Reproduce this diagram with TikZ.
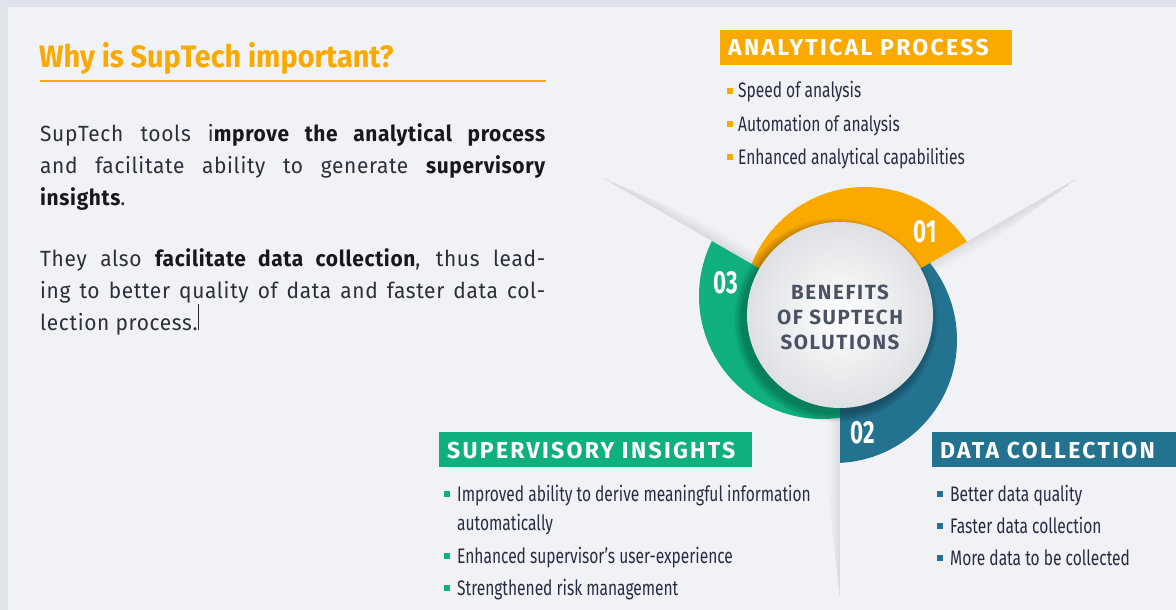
\documentclass[tikz,border=0pt]{standalone}
\usepackage{fontspec}
\setmainfont{Fira Sans}
\newfontfamily\condf[FakeStretch=0.74]{Fira Sans}
\newfontfamily\numf[FakeStretch=0.70]{Fira Sans}
\newfontfamily\titlef[FakeStretch=0.93]{Fira Sans}
\newfontfamily\headf[LetterSpace=10]{Fira Sans}
\newfontfamily\centf[LetterSpace=8]{Fira Sans}
\newfontfamily\bodyf[FakeStretch=0.95,LetterSpace=3]{Fira Sans}
\definecolor{borderc}{RGB}{223,227,234}
\definecolor{bgc}{RGB}{240,242,245}
\definecolor{orng}{RGB}{250,169,0}
\definecolor{blu}{RGB}{35,114,143}
\definecolor{grn}{RGB}{16,176,126}
\definecolor{bodytxt}{RGB}{43,47,58}
\definecolor{boldtxt}{RGB}{22,24,30}
\definecolor{listtxt}{RGB}{40,44,66}
\definecolor{centtxt}{RGB}{75,82,99}
\definecolor{hubedge}{RGB}{222,224,228}
\newcommand\bb[1]{{\bfseries\color{boldtxt}#1}}
\begin{document}
\begin{tikzpicture}[x=1pt,y=-1pt,
  headbox/.style={inner sep=0, anchor=north west, minimum height=35pt, fill=#1},
  headtxt/.style={inner sep=0, anchor=base west, text=white, font=\headf\bfseries\fontsize{23}{23}\selectfont},
  bul/.style={minimum size=6pt, inner sep=0, fill=#1},
  li/.style={anchor=base west, inner sep=0, text=listtxt, font=\condf\fontsize{21}{21}\selectfont},
  num/.style={text=white, inner sep=0, font=\numf\bfseries\fontsize{32}{32}\selectfont},
  para/.style={anchor=base west, inner sep=0, text=bodytxt, font=\bodyf\fontsize{22}{22}\selectfont}]
\useasboundingbox (0,0) rectangle (1176,610);
\fill[borderc] (0,0) rectangle (1176,610);
\fill[bgc] (8,7) rectangle (1176,610);

% title
\node[anchor=base west, inner sep=0, text=orng, font=\titlef\bfseries\fontsize{31}{31}\selectfont] (title) at (39,68) {Why is SupTech important?};
\draw[orng, line width=1.5pt] (40,81) -- (546,81);

% paragraph
\node[para] (p1) at (40,141) {\makebox[505pt][s]{SupTech tools i\bb{mprove the analytical process}}};
\node[para] (p2) at (40,173) {\makebox[505pt][s]{and facilitate ability to generate \bb{supervisory}}};
\node[para] (p3) at (40,205) {\bb{insights}.};
\node[para] (p4) at (40,266) {\makebox[505pt][s]{They also \bb{facilitate data collection}, thus lead-}};
\node[para] (p5) at (40,298) {\makebox[505pt][s]{ing to better quality of data and faster data col-}};
\node[para] (p6) at (40,330) {lection process.};
\draw[black!85, line width=1pt] (p6.east) ++(1,-20) -- ++(0,26);

% fold shadows
\foreach \a/\r in {150/272, 30/272, -90/280} {
 \begin{scope}[shift={(840,315)}, rotate=\a]
  \foreach [evaluate=\i as \op using {0.085*(1-\i/14)^1.5}] \i in {0,...,13} {
    \fill[black, opacity=\op] (100,\i) rectangle ({\r-\i*9},\i+1);
  }
 \end{scope}
}

% coloured segments
\begin{scope}[shift={(840,315)}]
 \begin{scope}
  \clip (0,0) -- (346.4,-200) -- (0,-400) -- (-346.4,-200) -- cycle;
  \fill[orng] (25,-6) circle[radius=122pt];
 \end{scope}
 \begin{scope}
  \clip (0,0) -- (346.4,-200) -- (346.4,200) -- (0,400) -- cycle;
  \fill[blu] (-6,25) circle[radius=123pt];
 \end{scope}
 \begin{scope}
  \clip (0,0) -- (0,400) -- (-346.4,200) -- (-346.4,-200) -- cycle;
  \fill[grn] (-18,-19) circle[radius=123pt];
 \end{scope}
 \foreach \k in {1,...,9} {
  \fill[black, opacity=0.03] (-4,5) circle[radius={93+\k}];
 }
\end{scope}

% hub
\node[circle, minimum size=186pt, inner sep=0, inner color=white, outer color=hubedge] (hub) at (840,315) {};
\node[align=center, inner sep=0, text=centtxt, font=\centf\bfseries\fontsize{20.5}{25}\selectfont] (hubtxt) at (840,317) {BENEFITS\\OF SUPTECH\\SOLUTIONS};

% numbers
\node[num] (n1) at (925,232) {01};
\node[num] (n3) at (726,283) {03};
\node[num] (n2) at (863,433) {02};

% analytical process
\node[headbox=orng, minimum width=292pt] (apbox) at (720,30) {};
\node[headtxt] (aptxt) at (728,56) {ANALYTICAL PROCESS};
\node[bul=orng] (ab1) at (730,91) {};
\node[bul=orng] (ab2) at (730,124) {};
\node[bul=orng] (ab3) at (730,157) {};
\node[li] (a1) at (738,98) {Speed of analysis};
\node[li] (a2) at (738,131) {Automation of analysis};
\node[li] (a3) at (738,164) {Enhanced analytical capabilities};

% supervisory insights
\node[headbox=grn, minimum width=313pt] (sibox) at (439,432) {};
\node[headtxt] (sitxt) at (447,458) {SUPERVISORY INSIGHTS};
\node[bul=grn] (sb1) at (447,494) {};
\node[bul=grn] (sb2) at (447,556) {};
\node[bul=grn] (sb3) at (447,588) {};
\node[li] (s1) at (457,501) {Improved ability to derive meaningful information};
\node[li] (s1b) at (457,530) {automatically};
\node[li] (s2) at (457,563) {Enhanced supervisor’s user-experience};
\node[li] (s3) at (457,595) {Strengthened risk management};

% data collection
\node[headbox=blu, minimum width=244pt] (dcbox) at (932,432) {};
\node[headtxt] (dctxt) at (940,458) {DATA COLLECTION};
\node[bul=blu] (db1) at (940,494) {};
\node[bul=blu] (db2) at (940,526) {};
\node[bul=blu] (db3) at (940,558) {};
\node[li] (d1) at (950,501) {Better data quality};
\node[li] (d2) at (950,533) {Faster data collection};
\node[li] (d3) at (950,565) {More data to be collected};
\end{tikzpicture}
\end{document}
